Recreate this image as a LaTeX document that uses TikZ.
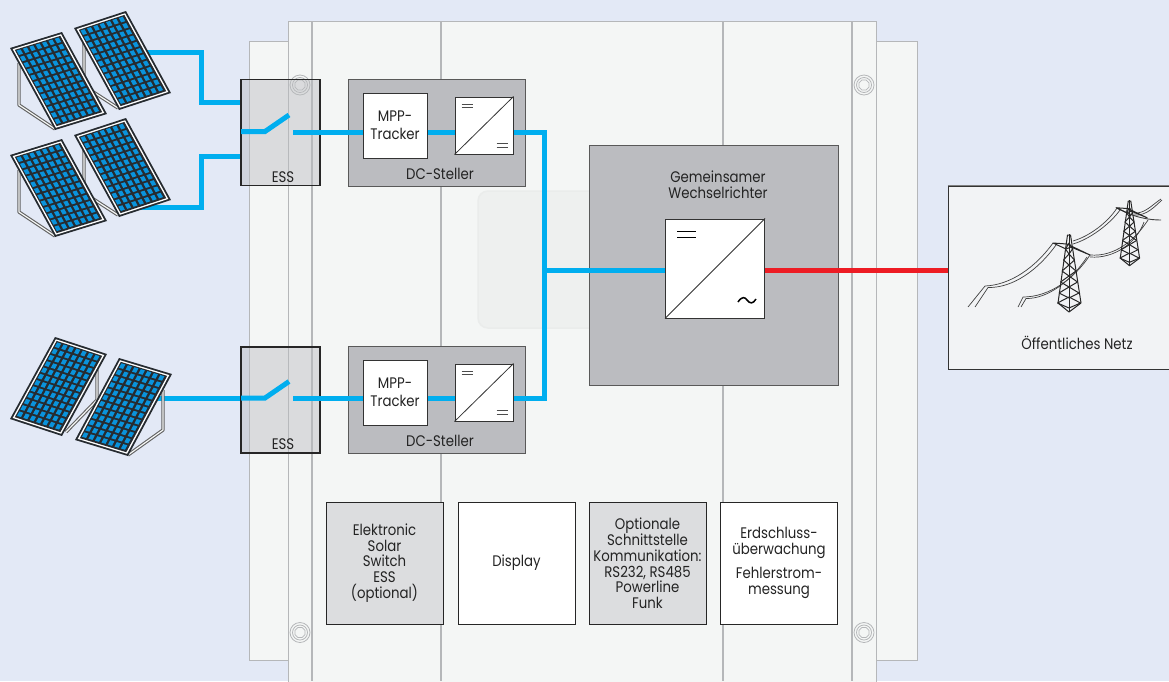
\documentclass[tikz,border=0pt]{standalone}
\usepackage{fontspec}
\setmainfont[FakeStretch=0.87]{Poppins}
\usetikzlibrary{calc,shapes.geometric}
\definecolor{bgc}{HTML}{E3E9F6}
\definecolor{plate}{HTML}{F4F6F5}
\definecolor{faint}{HTML}{EEF0EF}
\definecolor{faintedge}{HTML}{EAECEB}
\definecolor{edge}{HTML}{B5B7B9}
\definecolor{midg}{HTML}{BBBCC0}
\definecolor{ligg}{HTML}{DCDDDF}
\definecolor{dcblue}{HTML}{00AEEF}
\definecolor{acred}{HTML}{ED1C24}
\definecolor{ink}{HTML}{232323}
\definecolor{cellb}{HTML}{0A93DC}
\definecolor{pdark}{HTML}{262B30}
\definecolor{gridfill}{HTML}{F2F3F5}
\tikzset{
  plateshape/.style={fill=plate,draw=edge,line width=1pt},
  rail/.style={draw=edge,line width=1.6pt},
  screwline/.style={draw=edge,line width=.8pt},
  essbox/.style={draw=black!85,line width=1.2pt,fill=midg,fill opacity=.45,text opacity=1,minimum width=79pt,minimum height=106pt,inner sep=0pt},
  dcbox/.style={draw=black!65,line width=1pt,fill=midg,minimum width=177pt,minimum height=107pt,inner sep=0pt},
  whitebox/.style={draw=black!80,line width=1pt,fill=white,inner sep=0pt},
  lowbox/.style={draw=black!85,line width=1pt,minimum width=117pt,minimum height=122pt,inner sep=0pt,align=center,font=\fontsize{15.3}{15.6}\selectfont,text=ink},
  txt/.style={font=\fontsize{15.3}{16.5}\selectfont,text=ink,align=center,inner sep=0pt},
  dcline/.style={draw=dcblue,line width=5pt,line join=miter},
  acline/.style={draw=acred,line width=5pt},
  eqline/.style={draw=black!70,line width=1pt},
  stand/.style={draw=black!62,line width=3.4pt,line join=round},
  standin/.style={draw=plate,line width=1.2pt,line join=round},
  wire/.style={draw=black!75,line width=.7pt},
  steel/.style={draw=black!85,line width=1pt,line join=round}
}
\newcommand\solarpv[6]{%
\begin{scope}[shift={(#1,#2)},x={(#3pt,#4pt)},y={(#5pt,#6pt)}]
 \fill[pdark] (0,0)--(1,0)--(1,1)--(0,1)--cycle;
 \fill[white] (.035,.02)--(.965,.02)--(.965,.98)--(.035,.98)--cycle;
 \fill[pdark] (.062,.035)--(.938,.035)--(.938,.965)--(.062,.965)--cycle;
 \foreach \i in {0,...,6}{\foreach \j in {0,...,11}{
   \pgfmathsetmacro\a{.085+\i*.1225}
   \pgfmathsetmacro\b{.048+\j*.0765}
   \fill[cellb] (\a,\b)--(\a+.076,\b)--(\a+.076,\b+.054)--(\a,\b+.054)--cycle;
 }}
\end{scope}}
\newcommand\stands[6]{%
 \draw[stand] (#1,#2)--(#3,#4)--(#5,#6);
 \draw[standin] (#1,#2)--(#3,#4)--(#5,#6);}
\newcommand\pylon[3]{%
\begin{scope}[shift={(#1,#2)},scale=#3]
 \draw[steel] (-1.5,0)--(-11,68)--(0,77)--(12,68)--(1.5,0)--cycle;
 \draw[steel] (0,-1)--(0,8);
 \draw[steel] (-16,8)--(-2,9)--(21,20)--(2,12)--(-3,14)--cycle;
 \foreach \y/\w in {14/3.5,25/5.5,36/7,47/8.5,58/10,68/11.5}{
   \draw[steel] (-\w,\y)--(0,\y+5)--(\w,\y);
   \draw[steel] (-\w,\y)--(0,\y-6)--(\w,\y);
 }
 \draw[steel] (0,5)--(0,77);
\end{scope}}
\begin{document}
\begin{tikzpicture}[x=1pt,y=-1pt]
\useasboundingbox (0,0) rectangle (1169,681);
\fill[bgc] (0,0) rectangle (1169,681);
% housing
\draw[plateshape] (249,41) rectangle (917,660);
\draw[plateshape] (288,21.5) rectangle (876,690);
\foreach \x in {312,441,723,852}{\draw[rail] (\x,21.5)--(\x,681);}
\foreach \x/\y in {300/85,864/85,300/632.5,864/632.5}{
  \draw[screwline] (\x,\y) circle (10);
  \draw[screwline] (\x,\y) circle (7.5);
  \node[regular polygon,regular polygon sides=8,draw=edge,line width=.7pt,minimum size=11pt,inner sep=0pt] at (\x,\y) {};
}
\draw[fill=faint,draw=faintedge,line width=1.5pt,rounded corners=10pt] (478,191) rectangle (600,328);
% blocks
\node[dcbox] (dc1) at (436.5,132.5) {};
\node[dcbox] (dc2) at (436.5,399.5) {};
\node[dcbox,minimum width=249pt,minimum height=240pt] (inv) at (713.5,265) {};
% free ends and junctions
\coordinate (in1) at (140,52);
\coordinate (in2) at (140,207);
\coordinate (in3) at (150,398);
\coordinate (bend1a) at (201.5,52);
\coordinate (bend1b) at (201.5,102.5);
\coordinate (bend2a) at (201.5,207);
\coordinate (bend2b) at (201.5,156);
\coordinate (sw1a) at (241,131.5);
\coordinate (sw1b) at (265,131.5);
\coordinate (sw1c) at (289,115);
\coordinate (out1) at (293,132);
\coordinate (sw2a) at (241,398);
\coordinate (sw2b) at (265,398);
\coordinate (sw2c) at (289,381.5);
\coordinate (out2) at (293,398);
\coordinate (bus1) at (544.5,132);
\coordinate (bus2) at (544.5,398);
\coordinate (busm) at (544.5,270);
\node[whitebox,minimum width=64pt,minimum height=65pt,txt] (mpp1) at (395,125.5) {MPP-\\[1.5pt]Tracker};
\node[whitebox,minimum width=64pt,minimum height=65pt,txt] (mpp2) at (395,392.5) {MPP-\\[1.5pt]Tracker};
\node[whitebox,minimum width=58pt,minimum height=57pt] (conv1) at (484,125.5) {};
\node[whitebox,minimum width=58pt,minimum height=57pt] (conv2) at (484,392.5) {};
\node[whitebox,minimum width=99pt,minimum height=99pt] (main) at (715,268.5) {};
% grid box
\node[draw=black!80,line width=1pt,fill=gridfill,minimum width=240pt,minimum height=183pt,inner sep=0pt] (grid) at (1068,277.5) {};
\draw[draw=black!50,line width=1pt] (grid.north west)--(grid.north east);
% connectors
\draw[dcline] (in1)--(bend1a)--(bend1b)--(241,102.5);
\draw[dcline] (in2)--(bend2a)--(bend2b)--(241,156);
\draw[dcline] (in3)--(sw2a);
\draw[dcline] (out1)--(out1 -| mpp1.west);
\draw[dcline] (out1 -| mpp1.east)--(out1 -| conv1.west);
\draw[dcline] (out2)--(out2 -| mpp2.west);
\draw[dcline] (out2 -| mpp2.east)--(out2 -| conv2.west);
\draw[dcline] (out1 -| conv1.east)--(bus1)--(bus2)--(out2 -| conv2.east);
\draw[dcline] (busm)--(busm -| main.west);
\draw[acline] (busm -| main.east)--(busm -| grid.west);
% ESS
\node[essbox] (ess1) at (280.5,132.5) {};
\node[essbox] (ess2) at (280.5,400) {};
\draw[dcline] (sw1a)--(sw1b)--(sw1c);
\draw[dcline] (sw2a)--(sw2b)--(sw2c);
\draw[dcline] (out1)--(ess1.east |- out1);
\draw[dcline] (out2)--(ess2.east |- out2);
\node[txt] (l1) at (283,177) {ESS};
\node[txt] (l2) at (283,444) {ESS};
\node[txt] (l3) at (440,174) {DC-Steller};
\node[txt] (l4) at (440,441) {DC-Steller};
\node[txt] (l5) at (718,184.5) {Gemeinsamer\\Wechselrichter};
\node[txt] (l6) at (1077,343) {Öffentliches Netz};
% converter symbols
\draw[black!80,line width=.8pt] (conv1.south west)--(conv1.north east);
\draw[black!80,line width=.8pt] (conv2.south west)--(conv2.north east);
\draw[black!80,line width=.8pt] (main.south west)--(main.north east);
\foreach \c in {conv1,conv2}{
  \draw[eqline] ($(\c.north west)+(7,7.5)$)--+(11,0);
  \draw[eqline] ($(\c.north west)+(7,11)$)--+(11,0);
  \draw[eqline] ($(\c.south east)+(-17,-11)$)--+(11,0);
  \draw[eqline] ($(\c.south east)+(-17,-7.5)$)--+(11,0);
}
\draw[black,line width=1.4pt] ($(main.north west)+(12,13)$)--+(19,0);
\draw[black,line width=1.4pt] ($(main.north west)+(12,19)$)--+(19,0);
\draw[black,line width=1.5pt] (738,302) .. controls (742,296) and (745,297) .. (747,300) .. controls (750,304) and (753,304) .. (756,299);
% low boxes
\node[lowbox,fill=ligg] (b1) at (384.5,563) {Elektronic\\Solar\\Switch\\ESS\\(optional)};
\node[lowbox,fill=white] (b2) at (516.5,563) {Display};
\node[lowbox,fill=ligg] (b3) at (647.5,563) {Optionale\\Schnittstelle\\Kommunikation:\\RS232, RS485\\Powerline\\Funk};
\node[lowbox,fill=white] (b4) at (779,563) {Erdschluss-\\überwachung\\[9pt]Fehlerstrom-\\messung};
% PV stands
\stands{19}{63}{19}{105}{55}{129}
\stands{84}{43}{84}{86}{118}{108}
\stands{19}{170}{19}{212}{55}{236}
\stands{84}{150}{84}{193}{118}{215}
\stands{97}{370}{97}{400}{66}{432}
\stands{163}{390}{163}{430}{128}{455}
% PV modules
\solarpv{10}{48}{52}{16}{45}{-82}
\solarpv{74}{28}{52}{17}{45}{-82}
\solarpv{10}{155}{52}{16}{45}{-82}
\solarpv{74}{135}{52}{17}{45}{-82}
\solarpv{55}{337}{52}{-17}{-45}{-82}
\solarpv{119}{358}{53}{-16}{-44}{-82}
% grid
\draw[wire] (1053,243) .. controls (1035,268) and (1010,285) .. (985,286) -- (968,307);
\draw[wire] (1056,245) .. controls (1038,270) and (1013,288) .. (988,287.5) -- (975,307);
\draw[wire] (1090,255) .. controls (1075,278) and (1050,297) .. (1023,297) -- (1018,307);
\draw[wire] (1087,257) .. controls (1072,280) and (1048,299) .. (1026,298.5) -- (1021,307);
\draw[wire] (1073,241) .. controls (1090,236) and (1108,222) .. (1117,208);
\draw[wire] (1073,244) .. controls (1090,239) and (1110,224) .. (1120,210);
\draw[wire] (1090,255) .. controls (1115,257) and (1135,240) .. (1148,220);
\draw[wire] (1090,257) .. controls (1115,259) and (1137,242) .. (1144,222);
\draw[wire] (1134,213) .. controls (1145,214) and (1153,204) .. (1161,199);
\draw[wire] (1134,215) .. controls (1147,216) and (1155,206) .. (1162,200);
\draw[wire,line width=.9pt] (1117,208) .. controls (1135,218) and (1150,220) .. (1161,220);
\pylon{1069}{235}{1}
\pylon{1129.5}{201}{.84}
\end{tikzpicture}
\end{document}
